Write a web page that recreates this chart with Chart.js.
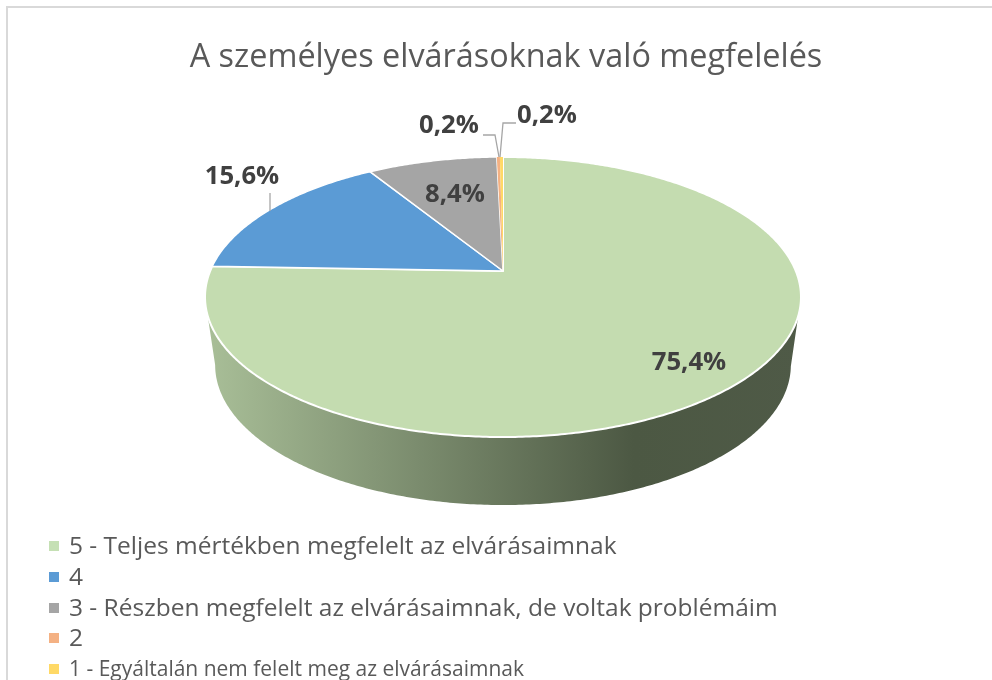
<!DOCTYPE html>
<html>
<head>
<meta charset="utf-8">
<style>
	html, body { margin: 0; padding: 0; background: #fff; overflow: hidden; }
	#frame { position: absolute; left: 6px; top: 6px; width: 986px; height: 674px; border-left: 2px solid #d9d9d9; border-top: 2px solid #d9d9d9; }
	canvas { position: absolute; left: 0; top: 0; }
</style>
<script src="https://cdn.jsdelivr.net/npm/chart.js@4"></script>
</head>
<body>
<div id="frame"></div>
<canvas id="chart" width="992" height="680"></canvas>
<script>
const chartTitle = 'A személyes elvárásoknak való megfelelés';
const categories = [
	'5 - Teljes mértékben megfelelt az elvárásaimnak',
	'4',
	'3 - Részben megfelelt az elvárásaimnak, de voltak problémáim',
	'2',
	'1 - Egyáltalán nem felelt meg az elvárásaimnak'
];
const values = [75.4, 15.6, 8.4, 0.2, 0.2];
const sliceColors = ['#c4dcb0', '#5b9bd5', '#a5a5a5', '#f4b183', '#ffd966'];
const markerColors = ['#c5e0b4', '#5b9bd5', '#a5a5a5', '#f4b183', '#ffd966'];

// tilted disc: apex sits above the middle of the ellipse, so a plain scale won't do
const disc = { x: 503, y: 271, rx: 292.8, ry: 135.2, k: 0.1857 };
const wall = { dy: 68, sx: 0.966, sy: 1 };

const labelAnchors = [[689, 363], [242, 176.5], [455, 194.5], [449, 126], [547, 115.5]];
const leaders = [
	null,
	[[270, 193], [270, 211]],
	null,
	[[483, 135], [495, 135], [499, 157]],
	[[516, 123], [503, 123], [500, 157]]
];
const legendRows = [
	{ y: 547, size: 24.5 },
	{ y: 578, size: 24.5 },
	{ y: 609, size: 24.5 },
	{ y: 639, size: 24.5 },
	{ y: 670, size: 21 }
];

function project(a, r = 1) {
	const u = Math.cos(a) * r, v = Math.sin(a) * r, w = 1 - disc.k * v;
	return [disc.x + disc.rx * u / w, disc.y + disc.ry * v / w];
}

function projectBottom(a) {
	const [x, y] = project(a);
	const midY = 297;
	return [disc.x + (x - disc.x) * wall.sx, midY + wall.dy + (y - midY) * wall.sy];
}

const pie3d = {
	id: 'pie3d',
	beforeDatasetDraw(chart) {
		const ctx = chart.ctx;
		const arcs = chart.getDatasetMeta(0).data;
		const edge = Math.asin(disc.k);

		// side wall, only the front is visible
		const grad = ctx.createLinearGradient(205, 0, 801, 0);
		grad.addColorStop(0, '#a9bf98');
		grad.addColorStop(0.72, '#4c5843');
		grad.addColorStop(1, '#4f5a47');
		ctx.save();
		ctx.beginPath();
		for (let a = edge; a <= Math.PI - edge; a += 0.01) {
			ctx.lineTo(...project(a));
		}
		for (let a = Math.PI - edge; a >= edge; a -= 0.01) {
			ctx.lineTo(...projectBottom(a));
		}
		ctx.closePath();
		ctx.fillStyle = grad;
		ctx.fill();

		// top face, angles come from the arc elements
		arcs.forEach(arc => {
			const { startAngle, endAngle } = arc.getProps(['startAngle', 'endAngle']);
			ctx.beginPath();
			ctx.moveTo(disc.x, disc.y);
			const steps = Math.max(2, Math.ceil((endAngle - startAngle) / 0.01));
			for (let i = 0; i <= steps; i++) {
				ctx.lineTo(...project(startAngle + (endAngle - startAngle) * i / steps));
			}
			ctx.closePath();
			ctx.fillStyle = arc.options.backgroundColor;
			ctx.fill();
			if (arc.options.borderWidth > 0) {
				ctx.strokeStyle = arc.options.borderColor;
				ctx.lineWidth = arc.options.borderWidth;
				ctx.lineJoin = 'round';
				ctx.stroke();
			}
		});
		ctx.restore();
		return false;
	},
	afterDraw(chart) {
		const ctx = chart.ctx;
		ctx.save();

		// leader lines
		ctx.strokeStyle = '#a6a6a6';
		ctx.lineWidth = 1.3;
		leaders.forEach(pts => {
			if (!pts) return;
			ctx.beginPath();
			pts.forEach(p => ctx.lineTo(p[0], p[1]));
			ctx.stroke();
		});

		// value labels
		ctx.font = 'bold 25.7px "Open Sans"';
		ctx.fillStyle = '#404040';
		ctx.textAlign = 'center';
		ctx.textBaseline = 'middle';
		values.forEach((v, i) => {
			ctx.fillText(v.toFixed(1).replace('.', ',') + '%', labelAnchors[i][0], labelAnchors[i][1]);
		});

		// legend, last row is smaller in the original
		ctx.textAlign = 'left';
		categories.forEach((name, i) => {
			const row = legendRows[i];
			ctx.fillStyle = markerColors[i];
			ctx.fillRect(49, row.y - 6, 10, 10);
			ctx.fillStyle = '#595959';
			ctx.font = row.size + 'px "Open Sans"';
			ctx.fillText(name, 69, row.y);
		});
		ctx.restore();
	}
};

new Chart(document.getElementById('chart'), {
	type: 'pie',
	data: {
		labels: categories,
		datasets: [{
			data: values,
			backgroundColor: sliceColors,
			borderColor: '#ffffff',
			borderWidth: [2, 1.5, 1.5, 0, 0]
		}]
	},
	options: {
		responsive: false,
		animation: false,
		layout: { padding: { left: 20 } },
		plugins: {
			legend: { display: false },
			tooltip: { enabled: false },
			title: {
				display: true,
				text: chartTitle,
				color: '#595959',
				font: { family: '"Open Sans"', size: 32.4, weight: 'normal' },
				padding: { top: 38, bottom: 10 }
			}
		}
	},
	plugins: [pie3d]
});
</script>
</body>
</html>
